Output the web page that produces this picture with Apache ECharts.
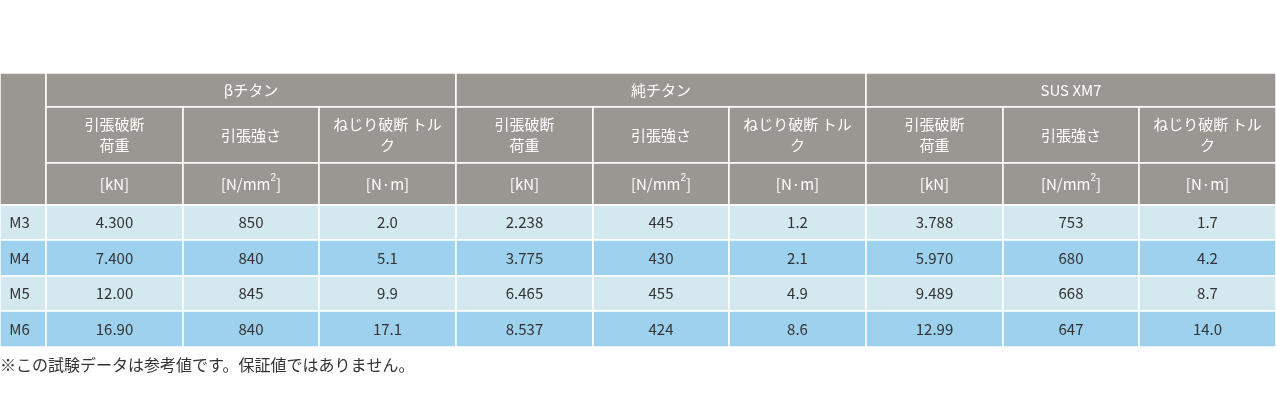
<!DOCTYPE html>
<html><head><meta charset="utf-8">
<script src="https://cdn.jsdelivr.net/npm/echarts@6/dist/echarts.min.js"></script>
<style>body{margin:0}#t{width:1276px;height:400px}</style>
</head><body><div id="t"></div>
<script>
// 表のデータ
var groups = ['βチタン', '純チタン', 'SUS XM7'];
var subHeads = ['引張破断\n荷重', '引張強さ', 'ねじり破断 トル\nク'];
var units = ['[kN]', '[N/mm{s|2}]', '[N·m]'];
var sizes = ['M3', 'M4', 'M5', 'M6'];
var betaTi = [['4.300', '850', '2.0'], ['7.400', '840', '5.1'], ['12.00', '845', '9.9'], ['16.90', '840', '17.1']];
var pureTi = [['2.238', '445', '1.2'], ['3.775', '430', '2.1'], ['6.465', '455', '4.9'], ['8.537', '424', '8.6']];
var sus = [['3.788', '753', '1.7'], ['5.970', '680', '4.2'], ['9.489', '668', '8.7'], ['12.99', '647', '14.0']];
var note = '※この試験データは参考値です。保証値ではありません。';

var myChart = echarts.init(document.getElementById('t'));

// レイアウト
var colX = [0, 46];
for (var i = 1; i <= 9; i++) colX.push(46 + Math.round(i * 1230 / 9));
var rowY = [73, 107, 163, 205, 240, 276, 311, 347];
var gray = '#9a9692', light = '#d4e8ef', blue = '#9dd1ee';

var cells = [];
function cell(c0, c1, r0, r1, fill, text, color) {
    cells.push([colX[c0], rowY[r0], colX[c1], rowY[r1], fill, text, color]);
}
cell(0, 1, 0, 3, gray, '', '#fff');
groups.forEach(function (g, k) {
    cell(1 + k * 3, 4 + k * 3, 0, 1, gray, g, '#fff');
    subHeads.forEach(function (s, j) {
        cell(1 + k * 3 + j, 2 + k * 3 + j, 1, 2, gray, s, '#fff');
        cell(1 + k * 3 + j, 2 + k * 3 + j, 2, 3, gray, units[j], '#fff');
    });
});
var blocks = [betaTi, pureTi, sus];
sizes.forEach(function (m, r) {
    var fill = r % 2 ? blue : light;
    cell(0, 1, 3 + r, 4 + r, fill, m, '#333');
    blocks.forEach(function (b, k) {
        b[r].forEach(function (v, j) {
            cell(1 + k * 3 + j, 2 + k * 3 + j, 3 + r, 4 + r, fill, v, '#333');
        });
    });
});

var option = {
    backgroundColor: '#fff',
    animation: false,
    grid: { left: 0, right: 0, top: 0, bottom: 0 },
    xAxis: { type: 'value', min: 0, max: 1276, show: false },
    yAxis: { type: 'value', min: 0, max: 400, inverse: true, show: false },
    textStyle: { fontFamily: 'Noto Sans CJK JP' },
    series: [{
        type: 'custom',
        data: cells,
        renderItem: function (params, api) {
            var p0 = api.coord([api.value(0), api.value(1)]);
            var p1 = api.coord([api.value(2), api.value(3)]);
            var d = cells[params.dataIndex];
            var side = d[0] === 0 && d[1] >= 205;
            return {
                type: 'rect',
                shape: { x: p0[0], y: p0[1], width: p1[0] - p0[0], height: p1[1] - p0[1] },
                style: { fill: d[4], stroke: '#fff', lineWidth: 1.5 },
                textContent: {
                    style: {
                        text: d[5], fill: d[6], fontSize: 15, lineHeight: 21,
                        fontFamily: 'Noto Sans CJK JP', align: side ? 'left' : 'center',
                        verticalAlign: 'middle',
                        rich: { s: { fontSize: 10, verticalAlign: 'top', fill: d[6], lineHeight: 10 } }
                    }
                },
                textConfig: { position: side ? [10, '50%'] : 'inside' }
            };
        }
    }],
    graphic: [{
        type: 'text', left: 0, top: 357,
        style: { text: note, fontSize: 16, fill: '#333', fontFamily: 'Noto Sans CJK JP' }
    }]
};
myChart.setOption(option);
</script></body></html>
